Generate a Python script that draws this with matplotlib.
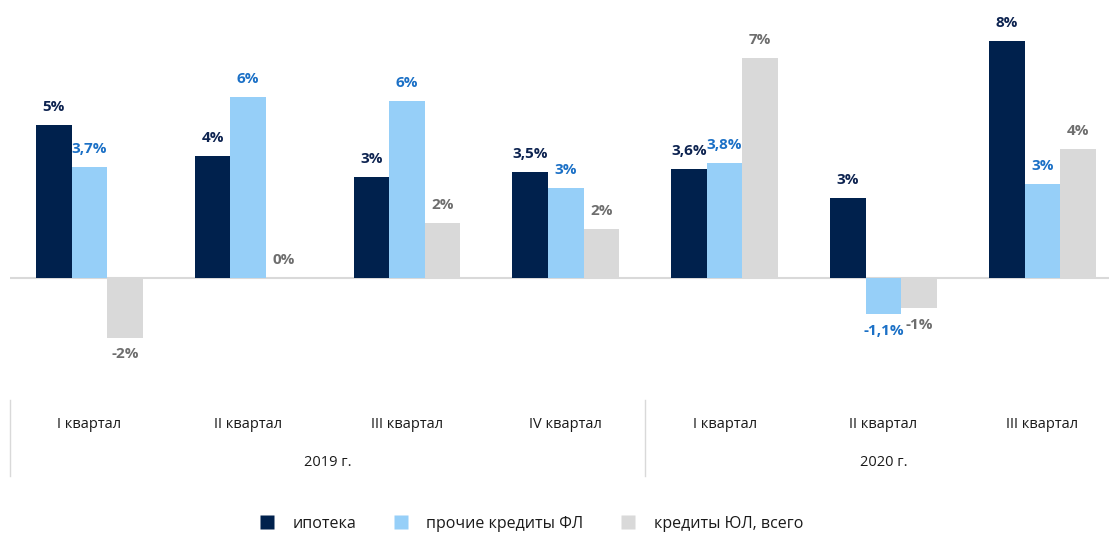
import matplotlib.pyplot as plt
from matplotlib import transforms
from matplotlib.lines import Line2D

plt.rcParams['font.family'] = ['Open Sans', 'DejaVu Sans']

quarters = ['I квартал', 'II квартал', 'III квартал', 'IV квартал',
            'I квартал', 'II квартал', 'III квартал']
years = ['2019 г.', '2020 г.']
series_names = ['ипотека', 'прочие кредиты ФЛ', 'кредиты ЮЛ, всего']

mortgage = [5.16, 4.12, 3.41, 3.58, 3.68, 2.69, 8.0]
retail_other = [3.74, 6.1, 5.97, 3.04, 3.88, -1.2, 3.18]
corporate = [-1.99, 0.0, 1.86, 1.66, 7.42, -1.01, 4.35]

mortgage_lbl = ['5%', '4%', '3%', '3,5%', '3,6%', '3%', '8%']
retail_lbl = ['3,7%', '6%', '6%', '3%', '3,8%', '-1,1%', '3%']
corporate_lbl = ['-2%', '0%', '2%', '2%', '7%', '-1%', '4%']

bar_colors = ['#00214d', '#96cff8', '#d9d9d9']
text_colors = ['#0d2350', '#1b70c6', '#6e6e6e']

W, H = 1109, 534
fig = plt.figure(figsize=(W / 100, H / 100), dpi=100)
# axes: x from px 10 to 1109, y from px 0 to 380 (top)
ax = fig.add_axes([10 / W, (H - 380) / H, (W - 10) / W, 380 / H])
ax.set_xlim(-0.5, 6.42)
ax.set_ylim(-3.42, 9.37)
ax.axis('off')

bw = 0.224
x = list(range(len(quarters)))
data = [mortgage, retail_other, corporate]
labels = [mortgage_lbl, retail_lbl, corporate_lbl]
for k in range(3):
    xs = [i + (k - 1) * bw for i in x]
    ax.bar(xs, data[k], width=bw, color=bar_colors[k], edgecolor='none', zorder=2)
    for xi, v, t in zip(xs, data[k], labels[k]):
        if v >= 0:
            ax.annotate(t, (xi, v), xytext=(0, 8), textcoords='offset points',
                        ha='center', va='bottom', fontsize=11, fontweight='bold',
                        color=text_colors[k])
        else:
            ax.annotate(t, (xi, v), xytext=(0, -7), textcoords='offset points',
                        ha='center', va='top', fontsize=11, fontweight='bold',
                        color=text_colors[k])

ax.axhline(0, color='#d9d9d9', lw=1.5, zorder=1)

# category axis below the plot
tr = transforms.blended_transform_factory(ax.transData, fig.transFigure)
for i, q in enumerate(quarters):
    fig.text(i, 1 - 425 / H, q, transform=tr, ha='center', va='center',
             fontsize=10.5, color='#1a1a1a')
fig.text(1.5, 1 - 462 / H, years[0], transform=tr, ha='center', va='center',
         fontsize=10.5, color='#1a1a1a')
fig.text(5.0, 1 - 462 / H, years[1], transform=tr, ha='center', va='center',
         fontsize=10.5, color='#1a1a1a')
for xb in [-0.5, 3.5]:
    fig.add_artist(Line2D([xb, xb], [1 - 400 / H, 1 - 476 / H], transform=tr,
                          color='#d9d9d9', lw=1))

handles = [Line2D([], [], marker='s', linestyle='none', markersize=10,
                  markerfacecolor=c, markeredgecolor='none') for c in bar_colors]
fig.legend(handles, series_names, loc='center', bbox_to_anchor=(527 / W, 1 - 524 / H),
           ncol=3, frameon=False, fontsize=11.5, handletextpad=0.6,
           columnspacing=1.8, labelcolor='#1a1a1a')

fig.savefig('out.png', dpi=100)
